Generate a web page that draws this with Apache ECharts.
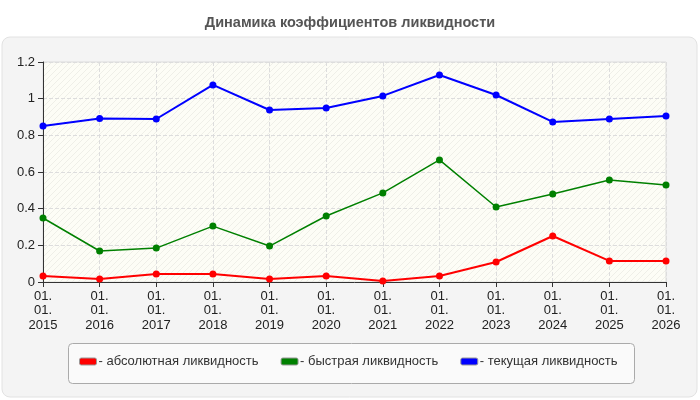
<!DOCTYPE html>
<html>
<head>
<meta charset="utf-8">
<script src="https://cdn.jsdelivr.net/npm/echarts@6/dist/echarts.min.js"></script>
<style>
  html, body { margin: 0; padding: 0; background: #fff; }
  #main { width: 700px; height: 400px; }
</style>
</head>
<body>
<div id="main"></div>
<script>
var myChart = echarts.init(document.getElementById('main'));

// data
var years = ['2015', '2016', '2017', '2018', '2019', '2020', '2021', '2022', '2023', '2024', '2025', '2026'];
var absolute = [0.033, 0.016, 0.044, 0.044, 0.016, 0.033, 0.005, 0.033, 0.109, 0.251, 0.115, 0.115];
var quick = [0.349, 0.169, 0.185, 0.305, 0.196, 0.36, 0.486, 0.666, 0.409, 0.48, 0.556, 0.529];
var current = [0.851, 0.892, 0.889, 1.075, 0.938, 0.949, 1.015, 1.129, 1.02, 0.873, 0.889, 0.906];
var seriesNames = ['абсолютная ликвидность', 'быстрая ликвидность', 'текущая ликвидность'];
var seriesColors = ['#ff0000', '#008000', '#0000ff'];

var categories = years.map(function (y) { return '01.\n01.\n' + y; });

// light diagonal hatch for the plot background
function hatch() {
    var c = document.createElement('canvas');
    c.width = 6; c.height = 6;
    var ctx = c.getContext('2d');
    ctx.fillStyle = '#fdfdf6';
    ctx.fillRect(0, 0, 6, 6);
    ctx.strokeStyle = '#efefe8';
    ctx.lineWidth = 1;
    ctx.beginPath();
    ctx.moveTo(0, 6); ctx.lineTo(6, 0);
    ctx.moveTo(-3, 3); ctx.lineTo(3, -3);
    ctx.moveTo(3, 9); ctx.lineTo(9, 3);
    ctx.stroke();
    return c;
}

var lineWidths = [2, 1.5, 2];

var option = {
    backgroundColor: '#fff',
    animation: false,
    textStyle: { fontFamily: 'Liberation Sans, Arial, sans-serif' },
    title: {
        text: 'Динамика коэффициентов ликвидности',
        left: 'center',
        top: 10,
        textStyle: { fontSize: 14.5, fontWeight: 'bold', color: '#555' }
    },
    graphic: [
        {
            type: 'rect', z: -10,
            shape: { x: 2, y: 37, width: 695, height: 360, r: 8 },
            style: { fill: '#f4f4f4', stroke: '#e2e2e2', lineWidth: 1 }
        },
        {
            type: 'rect', z: -5,
            shape: { x: 68.5, y: 343.5, width: 566, height: 40, r: 4 },
            style: { fill: '#fafafa', stroke: '#aaaaaa', lineWidth: 1 }
        }
    ],
    legend: {
        left: 74,
        top: 350,
        itemWidth: 17,
        itemHeight: 7,
        itemGap: 22,
        icon: 'roundRect',
        formatter: '- {name}',
        textStyle: { fontSize: 13, color: '#333', padding: [0, 0, 0, -3] },
        itemStyle: { borderColor: '#999', borderWidth: 1 },
        data: seriesNames
    },
    grid: {
        left: 43, right: 34, top: 62, bottom: 118,
        show: true,
        backgroundColor: { image: hatch(), repeat: 'repeat' },
        borderColor: '#dddddd',
        borderWidth: 1
    },
    xAxis: {
        type: 'category',
        boundaryGap: false,
        data: categories,
        axisLine: { lineStyle: { color: '#333' } },
        axisTick: { show: true, length: 5, alignWithLabel: true, lineStyle: { color: '#333' } },
        axisLabel: { color: '#222', fontSize: 13, lineHeight: 14.5, margin: 7, interval: 0 },
        splitLine: { show: true, lineStyle: { color: '#dddddd', type: 'dashed' } }
    },
    yAxis: {
        type: 'value',
        min: 0, max: 1.2, interval: 0.2,
        axisLine: { show: true, lineStyle: { color: '#333' } },
        axisTick: { show: true, length: 5, lineStyle: { color: '#333' } },
        axisLabel: { color: '#222', fontSize: 13, margin: 8 },
        splitLine: { show: true, lineStyle: { color: '#dddddd', type: 'dashed' } }
    },
    series: [absolute, quick, current].map(function (vals, i) {
        return {
            name: seriesNames[i],
            type: 'line',
            data: vals,
            symbol: 'circle',
            symbolSize: 7,
            color: seriesColors[i],
            lineStyle: { width: lineWidths[i], color: seriesColors[i] },
            itemStyle: { color: seriesColors[i] },
            z: 3 - i
        };
    })
};

myChart.setOption(option);
</script>
</body>
</html>
